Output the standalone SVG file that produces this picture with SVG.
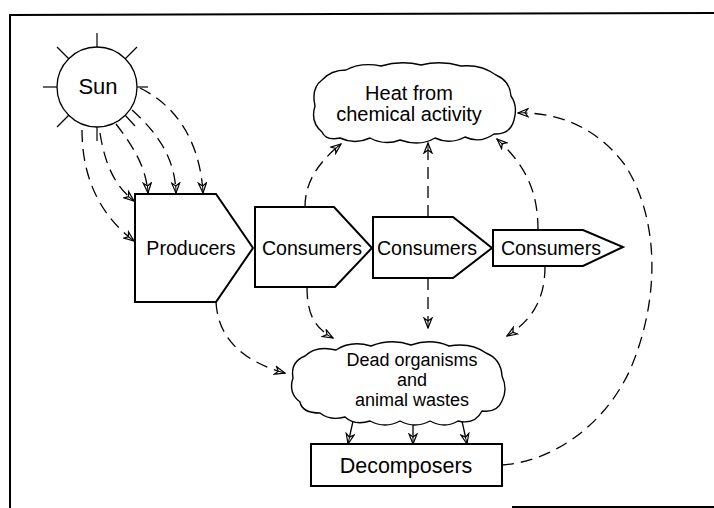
<svg xmlns="http://www.w3.org/2000/svg" width="714" height="508" viewBox="0 0 714 508">
<style>
.shape{fill:#fff;stroke:#000;stroke-width:2;stroke-linejoin:miter}
.cloud{fill:#fff;stroke:#000;stroke-width:1.4;stroke-linejoin:round}
.lbl{font-family:"Liberation Sans",Arial,sans-serif;font-size:19.6px;fill:#000;text-anchor:middle}
.con{fill:none;stroke:#000;stroke-width:1.3;stroke-dasharray:12 7;marker-end:url(#arr)}
.ray{stroke:#000;stroke-width:1.2}
</style>
<defs>
<marker id="arr" viewBox="0 0 12 10" refX="11" refY="5" markerWidth="12" markerHeight="10" orient="auto" markerUnits="userSpaceOnUse">
<path d="M1,1 L11,5 L1,9 L4,5 Z" fill="#fff" stroke="#000" stroke-width="1.2" stroke-linejoin="miter"/>
<path d="M4,5 L11,5" stroke="#000" stroke-width="1"/>
</marker>
</defs>
<rect width="714" height="508" fill="#fff"/>
<g id="frame" fill="none" stroke="#000" stroke-width="2">
<path d="M10,508 L10,15 L714,13"/>
<path d="M512,507 L714,507"/>
</g>
<g id="connectors">
<path class="con" d="M82,130 C82,178 100,215 134,241"/>
<path class="con" d="M100,133 C105,165 115,186 134,201"/>
<path class="con" d="M116,124 C132,145 146,166 148,193"/>
<path class="con" d="M132,110 C160,135 175,160 176,193"/>
<path class="con" d="M140,88 C175,105 200,140 203,193"/>
<path class="con" d="M305,207 C305,185 315,165 341,144"/>
<path class="con" d="M428,217 L428,143"/>
<path class="con" d="M538,230 C538,190 525,165 497,139"/>
<path class="con" d="M502,465 C548,462 602,430 630,370 C660,300 660,220 625,165 C595,125 555,112 518,113"/>
<path class="con" d="M216,302 C218,340 245,362 285,373"/>
<path class="con" d="M307,287 C307,315 315,328 333,338"/>
<path class="con" d="M428,278 L428,328"/>
<path class="con" d="M545,266 C545,300 532,320 507,336"/>
<path class="con" style="stroke-dasharray:none" d="M353,421 L348,444"/>
<path class="con" style="stroke-dasharray:none" d="M413,423 L413,444"/>
<path class="con" style="stroke-dasharray:none" d="M462,421 L467,444"/>
</g>
<g id="sun">
<circle cx="97" cy="87" r="40" fill="#fff" stroke="#000" stroke-width="1.3"/>
<line class="ray" x1="97" y1="47" x2="97" y2="33"/>
<line class="ray" x1="97" y1="127" x2="97" y2="141"/>
<line class="ray" x1="57" y1="87" x2="43" y2="87"/>
<line class="ray" x1="137" y1="87" x2="148" y2="87"/>
<line class="ray" x1="69" y1="59" x2="57" y2="47"/>
<line class="ray" x1="125" y1="59" x2="137" y2="47"/>
<line class="ray" x1="69" y1="115" x2="57" y2="127"/>
<line class="ray" x1="125" y1="115" x2="135" y2="126"/>
<text class="lbl" x="98" y="94" style="font-size:22px">Sun</text>
</g>
<g id="producers">
<path class="shape" d="M135,194 L216,194 L253,248 L216,302 L135,302 Z"/>
<text class="lbl" x="191" y="255">Producers</text>
</g>
<g id="consumers1">
<path class="shape" d="M255,207 L334,207 L372,248 L335,287 L255,287 Z"/>
<text class="lbl" x="312" y="255">Consumers</text>
</g>
<g id="consumers2">
<path class="shape" d="M373,217 L453,217 L492,248 L453,278 L373,278 Z"/>
<text class="lbl" x="427" y="255">Consumers</text>
</g>
<g id="consumers3">
<path class="shape" d="M493,230 L583,230 L623,247 L583,266 L493,266 Z"/>
<text class="lbl" x="551" y="255">Consumers</text>
</g>
<g id="heat">
<path class="cloud" d="M322,132 Q310,122 315,106 Q311,88 322,80 Q331,70 346,70 Q361,62 381,66 Q401,60 421,65 Q441,60 461,66 Q481,64 496,75 Q510,81 511,96 Q518,106 514,120 Q510,135 494,134 Q480,144 465,137 Q450,145 435,138 Q420,147 400,140 Q385,146 370,138 Q355,145 340,138 Q326,141 322,132 Z"/>
<text class="lbl" x="409" y="100" style="font-size:20px">Heat from</text>
<text class="lbl" x="409" y="121" style="font-size:20px">chemical activity</text>
</g>
<g id="dead">
<path class="cloud" d="M300,402 Q288,393 293,378 Q290,362 305,356 Q316,345 336,350 Q351,340 371,346 Q391,338 411,345 Q431,338 449,346 Q471,342 486,353 Q501,359 502,376 Q508,389 502,401 Q497,413 482,411 Q475,425 458,421 Q445,429 430,421 Q415,429 400,421 Q385,429 370,421 Q355,426 345,417 Q330,421 320,413 Q302,413 300,402 Z"/>
<text class="lbl" x="412" y="366" style="font-size:18px">Dead organisms</text>
<text class="lbl" x="412" y="386" style="font-size:18px">and</text>
<text class="lbl" x="412" y="406" style="font-size:18px">animal wastes</text>
</g>
<g id="decomposers">
<rect class="shape" x="311" y="444" width="191" height="42"/>
<text class="lbl" x="406" y="473" style="font-size:21.5px">Decomposers</text>
</g>
</svg>
